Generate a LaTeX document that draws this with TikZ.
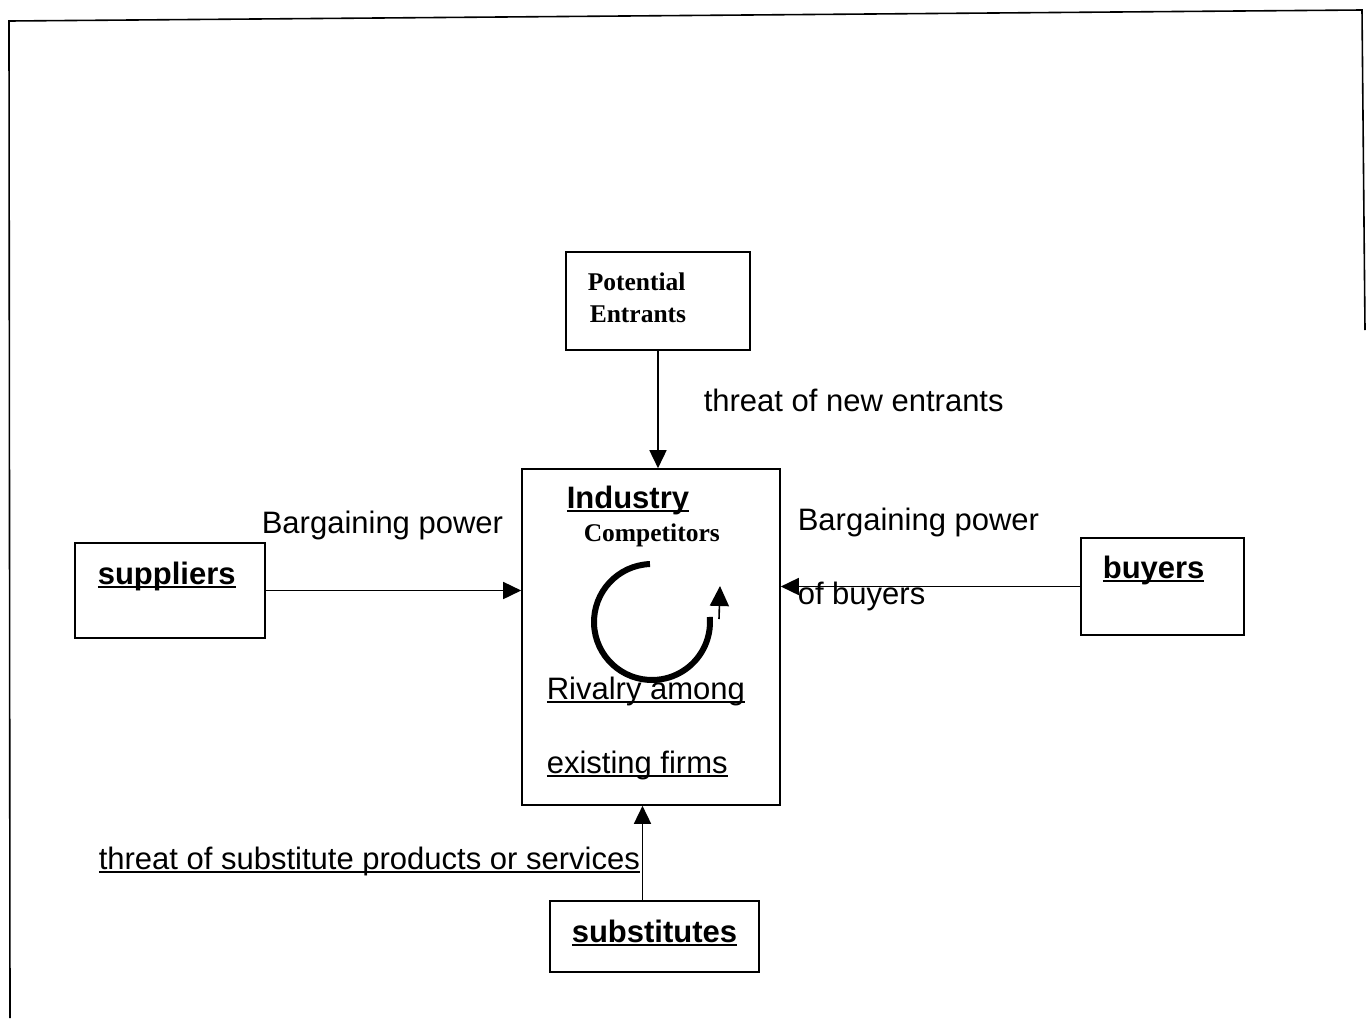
\documentclass[tikz,border=0pt]{standalone}
\usepackage{fontspec}
\setmainfont{Liberation Sans}
\newfontfamily\timesbf{Liberation Serif}
\usetikzlibrary{arrows.meta}
\newcommand\ulabel[1]{\setbox0=\hbox{#1}\copy0\kern-\wd0\rule[-3.5pt]{\wd0}{1.8pt}}

\begin{document}
\begin{tikzpicture}[x=1pt,y=-1pt,line width=1.6pt,
  box/.style={draw,rectangle,inner sep=0pt},
  txt/.style={anchor=base west,inner sep=0pt,font=\fontsize{31}{37}\selectfont},
  btxt/.style={anchor=base west,inner sep=0pt,font=\fontsize{31}{37}\selectfont\bfseries},
  stxt/.style={anchor=base west,inner sep=0pt,font=\fontsize{25.5}{30}\selectfont\timesbf\bfseries},
  arr/.style={-{Triangle[length=18pt,width=17pt]}}]
\useasboundingbox (0,0) rectangle (1366,1018);
\draw (10,1018) -- (9,21) -- (1362,10) -- (1365,330);

\node[box,minimum width=184pt,minimum height=98pt] (pot) at (658,301) {};
\node[box,minimum width=258pt,minimum height=336pt] (ind) at (651,637) {};
\node[box,minimum width=190pt,minimum height=95pt] (sup) at (170,590.5) {};
\node[box,minimum width=163pt,minimum height=97pt] (buy) at (1162.5,586.5) {};
\node[box,minimum width=209pt,minimum height=71pt] (sub) at (654.5,936.5) {};

\node[stxt] (potA) at (587,290) {Potential};
\node[stxt] (potB) at (589,322) {Entrants};
\node[txt] (thrnew) at (703,411) {threat of new entrants};
\node[btxt] (indA) at (566,508) {\ulabel{Industry}};
\node[stxt] (indB) at (583,541) {Competitors};
\node[txt] (rivA) at (546,699) {\ulabel{Rivalry among}};
\node[txt] (rivB) at (546,773) {\ulabel{existing firms}};
\node[btxt] (supt) at (97,584) {\ulabel{suppliers}};
\node[txt] (bpsup) at (261,533) {Bargaining power};
\node[btxt] (buyt) at (1102,578) {\ulabel{buyers}};
\node[txt] (bpbuyA) at (797,530) {Bargaining power};
\node[txt] (bpbuyB) at (797,604) {of buyers};
\node[btxt] (subt) at (571,942) {\ulabel{substitutes}};
\node[txt] (thrsub) at (98,869) {\ulabel{threat of substitute products or services}};

\draw[arr] (pot.south) -- (pot.south |- ind.north);
\draw[arr] (sup.east) -- (sup.east -| ind.west);
\draw[arr] (buy.west) -- (buy.west -| ind.east);
\coordinate (subtop) at ([xshift=-12pt]sub.north);
\draw[arr] (subtop) -- (subtop |- ind.south);

% rivalry circle
\draw[line width=6pt] ([shift={(-92:58)}]652,622) arc[start angle=-92,end angle=-365,radius=58];
\draw[-{Triangle[length=20pt,width=19pt]}] (719,619) -- (720,586);

\end{tikzpicture}
\end{document}
